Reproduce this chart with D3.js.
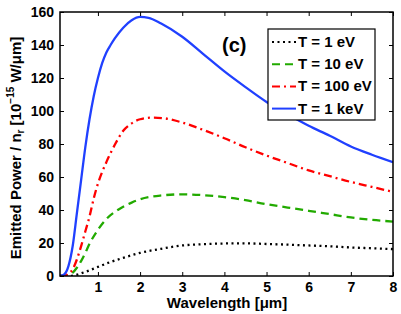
<!DOCTYPE html>
<html>
<head>
<meta charset="utf-8">
<script src="https://cdn.jsdelivr.net/npm/d3@7"></script>
<style>
  body { margin: 0; background: #fff; }
  text { font-family: "Liberation Sans", Arial, sans-serif; }
</style>
</head>
<body>
<svg width="401" height="314"></svg>
<script>
// wavelength in um
var wl1 = [0.1, 0.3, 0.5, 0.7, 1.0, 1.3, 1.6, 2.0, 2.5, 3, 3.5, 4, 4.5, 5, 5.5, 6, 6.5, 7, 7.5, 8];
var t1ev = [0, 0, 0.8, 2.5, 5.5, 8.5, 11, 14, 16.5, 18.5, 19.3, 19.7, 19.8, 19.4, 19, 18.5, 18, 17.3, 16.8, 16.3];

var wl10 = [0.1, 0.2, 0.3, 0.4, 0.5, 0.6, 0.7, 0.8, 1.0, 1.2, 1.5, 1.8, 2.0, 2.5, 3, 3.5, 4, 4.5, 5, 5.5, 6, 6.5, 7, 7.5, 8];
var t10ev = [0, 0, 0.5, 2, 5, 9, 14, 19.5, 28, 34.5, 40.5, 44.5, 46.5, 48.8, 49.5, 49, 47.8, 46, 43.5, 41.5, 39.5, 37.5, 35.5, 34, 33];

var wl100 = [0.1, 0.2, 0.3, 0.4, 0.5, 0.6, 0.7, 0.8, 0.9, 1.0, 1.1, 1.2, 1.4, 1.6, 1.8, 2.0, 2.3, 2.6, 3, 3.5, 4, 4.5, 5, 5.5, 6, 6.5, 7, 7.5, 8];
var t100ev = [0, 0, 1.5, 4, 10, 18, 27, 36, 47, 56, 63, 69, 79.5, 88, 92.5, 95, 96, 95.5, 93, 88.5, 83.5, 78, 73, 68.5, 64, 60.5, 57, 54, 51];

var wlk = [0.1, 0.2, 0.3, 0.4, 0.5, 0.6, 0.7, 0.8, 0.9, 1.0, 1.1, 1.2, 1.3, 1.4, 1.6, 1.8, 2.0, 2.2, 2.5, 3, 3.5, 4, 4.5, 5, 5.5, 6, 6.5, 7, 7.5, 8];
var t1kev = [0, 1, 6, 18, 38, 58, 78, 95, 109, 120, 129, 135.5, 140, 144, 150.5, 155, 157, 156.5, 153, 145, 134.5, 124, 114.5, 105.5, 98, 91, 85, 78.5, 73.5, 69];

var xTicks = [1, 2, 3, 4, 5, 6, 7, 8];
var yTicks = [0, 20, 40, 60, 80, 100, 120, 140, 160];
var names = ['T = 1 eV', 'T = 10 eV', 'T = 100 eV', 'T = 1 keV'];

var series = [
  {name: names[0], x: wl1, y: t1ev, color: '#000000', dash: '2,3.5'},
  {name: names[1], x: wl10, y: t10ev, color: '#22aa00', dash: '8,5'},
  {name: names[2], x: wl100, y: t100ev, color: '#ff0000', dash: '8,4,2,4'},
  {name: names[3], x: wlk, y: t1kev, color: '#2040ff', dash: null}
];

var svg = d3.select('svg');
var pL = 60, pR = 393, pT = 12, pB = 276;

var x = d3.scaleLinear().domain([0.1, 8]).range([pL, pR]);
var y = d3.scaleLinear().domain([0, 160]).range([pB, pT]);

svg.append('clipPath').attr('id', 'clip')
  .append('rect').attr('x', pL).attr('y', pT)
  .attr('width', pR - pL).attr('height', pB - pT);

var line = d3.line()
  .x(function(d) { return x(d[0]); })
  .y(function(d) { return y(d[1]); })
  .curve(d3.curveMonotoneX);

var plot = svg.append('g').attr('clip-path', 'url(#clip)');
series.forEach(function(s) {
  var pts = s.x.map(function(v, i) { return [v, s.y[i]]; });
  plot.append('path')
    .attr('d', line(pts))
    .attr('fill', 'none')
    .attr('stroke', s.color)
    .attr('stroke-width', 2.3)
    .attr('stroke-dasharray', s.dash);
});

// axes, ticks inside on all four sides
var xAxis = svg.append('g').attr('transform', 'translate(0,' + pB + ')')
  .call(d3.axisBottom(x).tickValues(xTicks).tickSize(-4).tickPadding(6).tickFormat(d3.format('d')));
var xTop = svg.append('g').attr('transform', 'translate(0,' + pT + ')')
  .call(d3.axisTop(x).tickValues(xTicks).tickSize(-4).tickFormat(''));
var yAxis = svg.append('g').attr('transform', 'translate(' + pL + ',0)')
  .call(d3.axisLeft(y).tickValues(yTicks).tickSize(-4).tickPadding(6));
var yRight = svg.append('g').attr('transform', 'translate(' + pR + ',0)')
  .call(d3.axisRight(y).tickValues(yTicks).tickSize(-4).tickFormat(''));

[xAxis, xTop, yAxis, yRight].forEach(function(g) {
  g.select('.domain').remove();
  g.selectAll('line').attr('stroke', '#000').attr('stroke-width', 1);
  g.selectAll('text').attr('font-size', 14).attr('font-weight', 'bold')
    .attr('fill', '#000').style('font-family', '"Liberation Sans", Arial, sans-serif');
});

svg.append('rect')
  .attr('x', pL).attr('y', pT)
  .attr('width', pR - pL).attr('height', pB - pT)
  .attr('fill', 'none').attr('stroke', '#000').attr('stroke-width', 1.5);

// axis titles
svg.append('text')
  .attr('x', 227).attr('y', 308)
  .attr('text-anchor', 'middle')
  .attr('font-size', 15).attr('font-weight', 'bold')
  .text('Wavelength [μm]');

var yt = svg.append('text')
  .attr('transform', 'translate(21,148) rotate(-90)')
  .attr('text-anchor', 'middle')
  .attr('font-size', 15).attr('font-weight', 'bold');
yt.append('tspan').text('Emitted Power / n');
yt.append('tspan').attr('font-size', 10).attr('dy', 3).text('r');
yt.append('tspan').attr('dy', -3).text('  [10');
yt.append('tspan').attr('font-size', 10).attr('dy', -7).text('−15');
yt.append('tspan').attr('dy', 7).text(' W/μm]');

// panel label
svg.append('text')
  .attr('x', 222).attr('y', 52)
  .attr('font-size', 20).attr('font-weight', 'bold')
  .text('(c)');

// legend
var lg = svg.append('g');
lg.append('rect')
  .attr('x', 268).attr('y', 29).attr('width', 107).attr('height', 91)
  .attr('fill', '#fff').attr('stroke', '#000').attr('stroke-width', 1.2);
series.forEach(function(s, i) {
  var yy = 42 + i * 22.2;
  lg.append('line')
    .attr('x1', 272).attr('x2', 296).attr('y1', yy).attr('y2', yy)
    .attr('stroke', s.color).attr('stroke-width', 2)
    .attr('stroke-dasharray', s.dash);
  lg.append('text')
    .attr('x', 298).attr('y', yy + 5)
    .attr('font-size', 15).attr('font-weight', 'bold')
    .text(s.name);
});
</script>
</body>
</html>
